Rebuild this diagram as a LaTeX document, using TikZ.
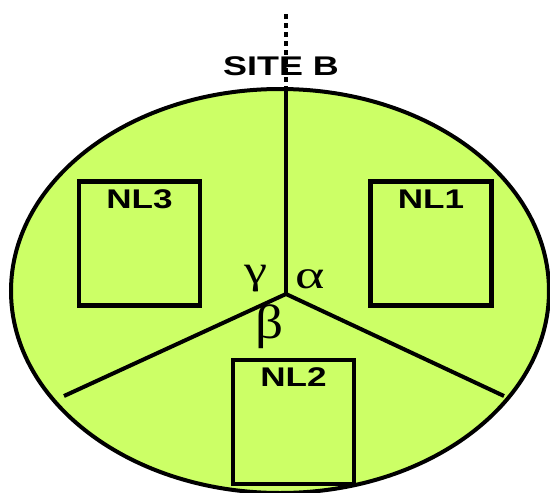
\documentclass[tikz,border=0pt]{standalone}
\usepackage{fontspec}
\setmainfont{Liberation Sans}
\newfontfamily\grk{Liberation Serif}
\usepackage{graphicx}
\definecolor{lime}{RGB}{204,255,102}
\begin{document}
\begin{tikzpicture}[x=1pt,y=-1pt,
  nlbox/.style={draw=black,line width=4.5pt,minimum width=121pt,minimum height=124pt,inner sep=0pt},
  lbl/.style={font=\bfseries\fontsize{27}{27}\selectfont,inner sep=0pt},
  greek/.style={font=\grk\fontsize{40}{40}\selectfont,inner sep=0pt},
  spoke/.style={line width=4pt}]
\useasboundingbox (0,0) rectangle (550,493);
\begin{scope}
\clip (0,0) rectangle (550,493);
\fill[lime,draw=black,line width=4pt] (280,291) ellipse [x radius=269, y radius=202];
\end{scope}
\coordinate (c) at (286,294);
\coordinate (top) at (286,89);
\coordinate (dtop) at (286,14);
\coordinate (lend) at (64,396);
\coordinate (rend) at (504,396);
\node[lbl] (site) at (281,66) {\scalebox{1.33}[1]{SITE B}};
\draw[line width=4.5pt,dash pattern=on 4.5pt off 4.5pt] (dtop) -- (top);
\draw[spoke] (top) -- (c);
\draw[spoke] (c) -- (lend);
\draw[spoke] (c) -- (rend);
\node[nlbox] (nl3) at (139.5,243.5) {};
\node[nlbox] (nl1) at (431,243.5) {};
\node[nlbox] (nl2) at (293.5,422) {};
\node[lbl,anchor=north] (t3) at ([yshift=-10pt]nl3.north) {\scalebox{1.3}[1]{NL3}};
\node[lbl,anchor=north] (t1) at ([yshift=-10pt]nl1.north) {\scalebox{1.3}[1]{NL1}};
\node[lbl,anchor=north] (t2) at ([yshift=-10pt]nl2.north) {\scalebox{1.3}[1]{NL2}};
\node[greek,anchor=base] (g) at (256,283) {\scalebox{1.3}[1]{γ}};
\node[greek,anchor=base] (a) at (310,288) {\scalebox{1.4}[1]{α}};
\node[greek,anchor=base,font=\grk\fontsize{48}{48}\selectfont] (b) at (270,338) {\scalebox{1.15}[1]{β}};
\end{tikzpicture}
\end{document}
